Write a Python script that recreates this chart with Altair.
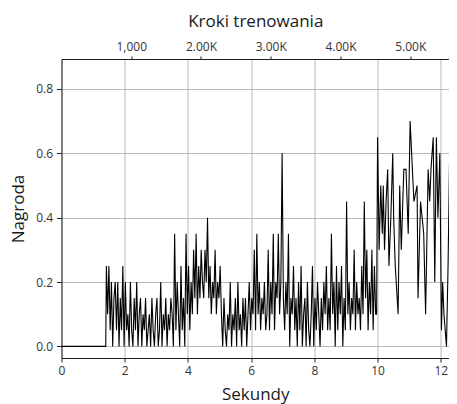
import altair as alt
import pandas as pd

# ---- data ----
flat_seconds = [0.0, 1.40]
flat_reward = [0.0, 0.0]

dense_start = 1.42   # seconds
dense_step = 0.04    # seconds between samples

reward_a = [0.25, 0.1, 0.25, 0.05, 0.2, 0.0, 0.15, 0.2, 0.05, 0.2, 0.0, 0.15, 0.05, 0.25,
            0.0, 0.2, 0.05, 0.1, 0.0, 0.2, 0.05, 0.0, 0.15, 0.05, 0.2, 0.0, 0.1]
reward_b = [0.15, 0.0, 0.1, 0.05, 0.15, 0.0, 0.05, 0.1, 0.0, 0.15, 0.05, 0.0, 0.1, 0.15,
            0.0, 0.05, 0.2, 0.0, 0.1, 0.05, 0.15, 0.0, 0.1, 0.05, 0.15]
reward_c = [0.1, 0.0, 0.35, 0.05, 0.2, 0.1, 0.0, 0.25, 0.05, 0.15, 0.0, 0.35, 0.1, 0.25,
            0.05, 0.2, 0.1, 0.3, 0.15, 0.35, 0.1, 0.25, 0.15, 0.3, 0.2]
reward_d = [0.15, 0.3, 0.2, 0.4, 0.15, 0.25, 0.1, 0.2, 0.15, 0.3, 0.1, 0.2, 0.15, 0.25,
            0.1, 0.0, 0.15, 0.05, 0.0, 0.1, 0.05, 0.2, 0.0, 0.1, 0.05]
reward_e = [0.15, 0.0, 0.2, 0.05, 0.1, 0.0, 0.15, 0.05, 0.15, 0.0, 0.1, 0.2, 0.05, 0.15,
            0.1, 0.3, 0.05, 0.35, 0.1, 0.2, 0.05, 0.15, 0.1, 0.2, 0.05]
reward_f = [0.1, 0.3, 0.05, 0.2, 0.1, 0.35, 0.05, 0.2, 0.15, 0.35, 0.1, 0.2, 0.6, 0.15,
            0.05, 0.2, 0.1, 0.35, 0.0, 0.15, 0.1, 0.25, 0.05, 0.15, 0.0]
reward_g = [0.2, 0.05, 0.25, 0.0, 0.1, 0.15, 0.0, 0.2, 0.05, 0.0, 0.1, 0.25, 0.0, 0.15,
            0.05, 0.2, 0.1, 0.0, 0.15, 0.05, 0.2, 0.1, 0.25, 0.05, 0.15]
reward_h = [0.05, 0.35, 0.1, 0.2, 0.0, 0.25, 0.05, 0.2, 0.1, 0.25, 0.0, 0.15, 0.05, 0.45,
            0.1, 0.2, 0.05, 0.15, 0.1, 0.3, 0.05, 0.2, 0.1, 0.15, 0.05]
reward_i = [0.25, 0.1, 0.45, 0.15, 0.3, 0.05, 0.2, 0.1, 0.3, 0.05, 0.25, 0.1]

tail_seconds = [9.97, 10.0, 10.05, 10.1, 10.15, 10.18, 10.22, 10.27, 10.32, 10.36, 10.42,
                10.48, 10.51, 10.56, 10.65, 10.7, 10.75, 10.83, 10.9, 10.97, 11.03, 11.15,
                11.25, 11.28, 11.36, 11.41, 11.46, 11.52, 11.6, 11.65, 11.69, 11.76, 11.81,
                11.86, 11.91, 11.97, 12.02, 12.06, 12.1, 12.18, 12.23, 12.28, 12.36, 12.44, 12.5]
tail_reward = [0.1, 0.65, 0.3, 0.5, 0.35, 0.5, 0.3, 0.45, 0.55, 0.25, 0.4, 0.6, 0.4, 0.25,
               0.1, 0.5, 0.3, 0.55, 0.55, 0.35, 0.7, 0.45, 0.5, 0.15, 0.45, 0.4, 0.35, 0.1,
               0.55, 0.45, 0.55, 0.65, 0.2, 0.65, 0.4, 0.6, 0.05, 0.2, 0.1, 0.0, 0.25, 0.6,
               0.35, 0.65, 0.5]

bottom_ticks = [0, 2, 4, 6, 8, 10, 12]
y_ticks = [0.0, 0.2, 0.4, 0.6, 0.8]
top_step_ticks = [1000, 2000, 3000, 4000, 5000]

x_title = "Sekundy"
top_title = "Kroki trenowania"
y_title = "Nagroda"

# ---- build table ----
dense_reward = (reward_a + reward_b + reward_c + reward_d + reward_e +
                reward_f + reward_g + reward_h + reward_i)
dense_seconds = [round(dense_start + i * dense_step, 4) for i in range(len(dense_reward))]

df = pd.DataFrame({
    "seconds": flat_seconds + dense_seconds + tail_seconds,
    "reward": flat_reward + dense_reward + tail_reward,
})
top_df = pd.DataFrame({"steps": top_step_ticks})

FONT = "Open Sans"

line = alt.Chart(df).mark_line(color="black", strokeWidth=1.1, clip=True).encode(
    x=alt.X("seconds:Q",
            scale=alt.Scale(domain=[0, 12.26], nice=False, zero=False),
            axis=alt.Axis(title=x_title, orient="bottom", values=bottom_ticks, format="d",
                          grid=True, tickSize=4, labelPadding=3, titlePadding=10)),
    y=alt.Y("reward:Q",
            scale=alt.Scale(domain=[-0.036, 0.893], nice=False, zero=False),
            axis=alt.Axis(title=y_title, values=y_ticks, format=".1f", grid=True,
                          tickSize=5, labelPadding=4, titlePadding=8)),
)

top = alt.Chart(top_df).mark_point(opacity=0).encode(
    x=alt.X("steps:Q",
            scale=alt.Scale(domain=[0, 5556], nice=False, zero=False),
            axis=alt.Axis(title=top_title, orient="top", values=top_step_ticks, grid=False,
                          tickSize=3, labelPadding=3, titlePadding=10,
                          labelExpr="datum.value == 1000 ? '1,000' : format(datum.value / 1000, '.2f') + 'K'")),
    y=alt.value(0),
)

chart = alt.layer(line, top).resolve_scale(x="independent").properties(
    width=387.5, height=299,
    autosize=alt.AutoSizeParams(type="none"),
    padding={"left": 53.5, "top": 51, "right": 0, "bottom": 48},
).configure_axis(
    labelFont=FONT, titleFont=FONT, labelFontSize=12, titleFontSize=17,
    titleFontWeight="normal", labelColor="#333333", titleColor="#1a1a1a",
    domainColor="#222222", tickColor="#222222", domainWidth=1,
    gridColor="#b8b8b8", gridWidth=1, labelFlush=False,
).configure_view(strokeWidth=0)

chart.save("out.html", embed_options={"renderer": "svg", "actions": False})
